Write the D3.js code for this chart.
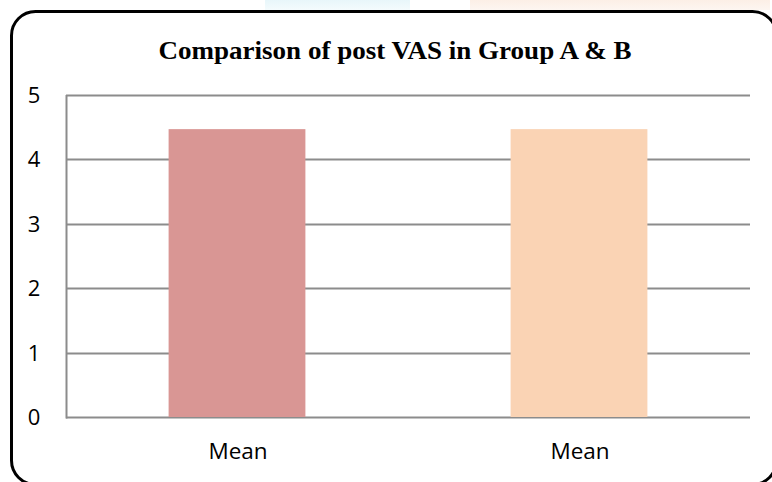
<!DOCTYPE html>
<html><head><meta charset="utf-8">
<script src="https://cdn.jsdelivr.net/npm/d3@7"></script>
<style>html,body{margin:0;padding:0;background:#fff;overflow:hidden}</style>
</head><body>
<script>
const categories = ["Mean", "Mean"];
const values = [4.47, 4.47];
const colors = ["#d99694", "#fad3b4"];
const yTicks = [0, 1, 2, 3, 4, 5];
const title = "Comparison of post VAS in Group A & B";

const W = 772, H = 482;
const svg = d3.select("body").append("svg").attr("width", W).attr("height", H);

// faint background tints at top
const defs = svg.append("defs");
const g1 = defs.append("linearGradient").attr("id","tc").attr("x1",0).attr("y1",0).attr("x2",0).attr("y2",1);
g1.append("stop").attr("offset","0%").attr("stop-color","#e8f6fa");
g1.append("stop").attr("offset","100%").attr("stop-color","#f4fbfd");
const g2 = defs.append("linearGradient").attr("id","to").attr("x1",0).attr("y1",0).attr("x2",0).attr("y2",1);
g2.append("stop").attr("offset","0%").attr("stop-color","#fcefe6");
g2.append("stop").attr("offset","100%").attr("stop-color","#fdf6f1");
svg.append("rect").attr("x",265).attr("y",0).attr("width",145).attr("height",10).attr("fill","url(#tc)");
svg.append("rect").attr("x",470).attr("y",0).attr("width",300).attr("height",10).attr("fill","url(#to)");

// rounded border
svg.append("rect").attr("x",11.5).attr("y",11.5).attr("width",765).attr("height",473)
  .attr("rx",24).attr("ry",24).attr("fill","#fff").attr("stroke","#000").attr("stroke-width",3);

const m = {left: 66, right: 750, top: 95, bottom: 417};
const x = d3.scaleBand().domain(d3.range(categories.length)).range([m.left, m.right]).paddingInner(0.6).paddingOuter(0.3);
const y = d3.scaleLinear().domain([0, 5]).range([m.bottom, m.top]);

// gridlines
svg.append("g").selectAll("line").data(yTicks).join("line")
  .attr("x1", m.left).attr("x2", m.right)
  .attr("y1", d => Math.round(y(d)) + 0.5).attr("y2", d => Math.round(y(d)) + 0.5)
  .attr("stroke", "#8c8c8c").attr("stroke-width", 2);
// left axis line
svg.append("line").attr("x1", m.left + 0.5).attr("x2", m.left + 0.5)
  .attr("y1", y(5)).attr("y2", y(0) + 1.5).attr("stroke", "#8c8c8c").attr("stroke-width", 2);

// y tick labels
svg.append("g").selectAll("text").data(yTicks).join("text")
  .attr("x", 34).attr("y", d => y(d)).attr("dy", "0.36em")
  .attr("text-anchor", "middle")
  .style("font-family", "'Open Sans', 'Liberation Sans', sans-serif").style("font-size", "22px").attr("fill", "#000")
  .text(d => d);

// bars
svg.append("g").selectAll("rect").data(values).join("rect")
  .attr("x", (d, i) => x(i)).attr("width", x.bandwidth())
  .attr("y", d => y(d)).attr("height", d => y(0) - y(d))
  .attr("fill", (d, i) => colors[i]);

// category labels
svg.append("g").selectAll("text").data(categories).join("text")
  .attr("x", (d, i) => x(i) + x.bandwidth() / 2 + 1).attr("y", 451).attr("dy", "0.36em")
  .attr("text-anchor", "middle")
  .style("font-family", "'Open Sans', 'Liberation Sans', sans-serif").style("font-size", "22.5px").attr("fill", "#000")
  .text(d => d);

// title
svg.append("text").attr("transform", "translate(395,50) scale(1.06,1)").attr("dy", "0.35em").attr("text-anchor", "middle")
  .style("font-family", "'Liberation Serif', 'Times New Roman', serif").style("font-weight", "bold").style("font-size", "25.5px")
  .text(title);
</script>
</body></html>
